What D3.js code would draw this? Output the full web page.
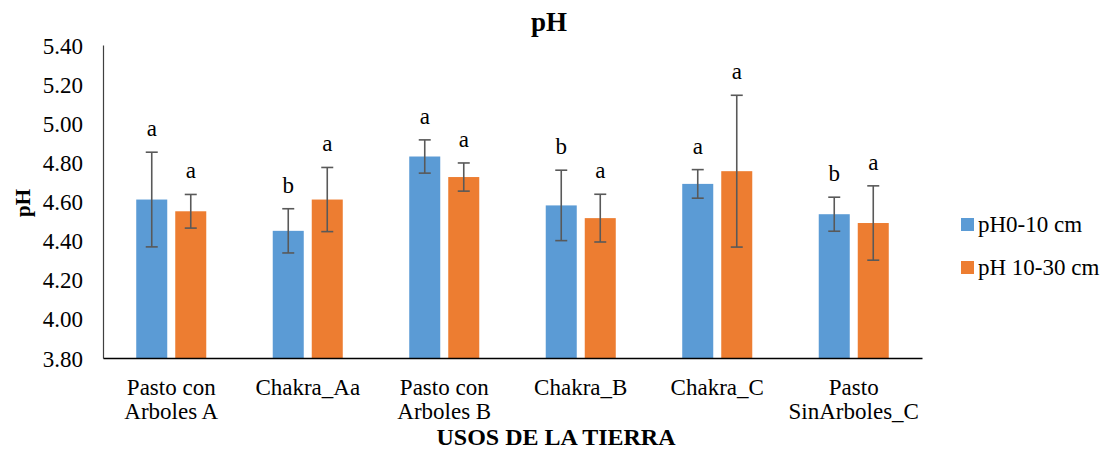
<!DOCTYPE html>
<html>
<head>
<meta charset="utf-8">
<script src="https://cdn.jsdelivr.net/npm/d3@7"></script>
<style>
  html, body { margin: 0; padding: 0; background: #fff; }
  svg { display: block; font-family: "Liberation Serif", "Times New Roman", serif; }
  svg text { font-family: "Liberation Serif", "Times New Roman", serif; }
</style>
</head>
<body>
<svg id="chart" width="1113" height="450"></svg>
<script>
// Land-use categories (label lines)
const categories = ["Pasto con Arboles A", "Chakra_Aa", "Pasto con Arboles B", "Chakra_B", "Chakra_C", "Pasto SinArboles_C"];
const categoryLines = [["Pasto con", "Arboles A"], ["Chakra_Aa"], ["Pasto con", "Arboles B"], ["Chakra_B"], ["Chakra_C"], ["Pasto", "SinArboles_C"]];

// Series: mean pH per depth
const seriesNames = ["pH0-10 cm", "pH 10-30 cm"];
const ph0_10 = [4.61, 4.45, 4.83, 4.58, 4.69, 4.535];
const ph10_30 = [4.55, 4.61, 4.725, 4.515, 4.755, 4.49];

// Error bar half-widths
const err0_10 = [0.242, 0.113, 0.085, 0.18, 0.073, 0.087];
const err10_30 = [0.086, 0.164, 0.072, 0.122, 0.388, 0.19];

// Significance letters
const letters0_10 = ["a", "b", "a", "b", "a", "b"];
const letters10_30 = ["a", "a", "a", "a", "a", "a"];

// Y axis ticks
const yTicks = [3.8, 4.0, 4.2, 4.4, 4.6, 4.8, 5.0, 5.2, 5.4];

const colors = ["#5B9BD5", "#ED7D31"];
const values = [ph0_10, ph10_30];
const errors = [err0_10, err10_30];
const letters = [letters0_10, letters10_30];

const svg = d3.select("#chart");
const plot = { left: 103, right: 922, top: 45, bottom: 358 };

const x0 = d3.scaleBand()
  .domain(categories)
  .range([plot.left, plot.right])
  .paddingInner(0.487)
  .paddingOuter(0.2435);

const x1 = d3.scaleBand()
  .domain(seriesNames)
  .range([0, x0.bandwidth()])
  .paddingInner(0.205)
  .paddingOuter(0);

const y = d3.scaleLinear()
  .domain([3.8, 5.4])
  .range([plot.bottom, plot.top]);

// Title
svg.append("text")
  .attr("x", 549).attr("y", 31)
  .attr("text-anchor", "middle")
  .attr("font-size", 27).attr("font-weight", "bold")
  .text("pH");

// Y axis
const yAxis = svg.append("g")
  .attr("transform", `translate(${plot.left},0)`)
  .call(d3.axisLeft(y).tickValues(yTicks).tickFormat(d3.format(".2f")).tickSize(0).tickPadding(20));
yAxis.attr("font-family", null).attr("font-size", null);
yAxis.select(".domain").attr("stroke", "#404040").attr("stroke-width", 1.2);
yAxis.selectAll("text")
  .style("font-family", "'Liberation Serif', 'Times New Roman', serif")
  .style("font-size", "23px")
  .attr("fill", "#000")
  .attr("dy", "0.35em");

// Y axis title
svg.append("text")
  .attr("transform", "translate(30,203) rotate(-90)")
  .attr("text-anchor", "middle")
  .attr("font-size", 21).attr("font-weight", "bold")
  .text("pH");

// Bars
const groups = svg.append("g").selectAll("g")
  .data(categories)
  .join("g")
  .attr("transform", d => `translate(${x0(d)},0)`);

seriesNames.forEach((s, si) => {
  groups.append("rect")
    .attr("x", x1(s))
    .attr("width", x1.bandwidth())
    .attr("y", (d, i) => y(values[si][i]))
    .attr("height", (d, i) => y(3.8) - y(values[si][i]))
    .attr("fill", colors[si]);
});

// Error bars and letters
seriesNames.forEach((s, si) => {
  const cx = x1(s) + x1.bandwidth() / 2;
  const eb = groups.append("g").attr("stroke", "#595959").attr("stroke-width", 1.6);
  eb.append("line")
    .attr("x1", cx).attr("x2", cx)
    .attr("y1", (d, i) => y(values[si][i] + errors[si][i]))
    .attr("y2", (d, i) => y(values[si][i] - errors[si][i]));
  eb.append("line")
    .attr("x1", cx - 6).attr("x2", cx + 6)
    .attr("y1", (d, i) => y(values[si][i] + errors[si][i]))
    .attr("y2", (d, i) => y(values[si][i] + errors[si][i]));
  eb.append("line")
    .attr("x1", cx - 6).attr("x2", cx + 6)
    .attr("y1", (d, i) => y(values[si][i] - errors[si][i]))
    .attr("y2", (d, i) => y(values[si][i] - errors[si][i]));

  groups.append("text")
    .attr("x", cx)
    .attr("y", (d, i) => y(values[si][i] + errors[si][i]) - 16)
    .attr("text-anchor", "middle")
    .attr("font-size", 23)
    .text((d, i) => letters[si][i]);
});

// X axis
const xAxis = svg.append("g")
  .attr("transform", `translate(0,${plot.bottom})`)
  .call(d3.axisBottom(x0).tickSize(0).tickFormat(""));
xAxis.select(".domain").attr("stroke", "#000").attr("stroke-width", 1.6);

// Category labels (multi-line)
const catLabels = svg.append("g").selectAll("text")
  .data(categories)
  .join("text")
  .attr("text-anchor", "middle")
  .attr("font-size", 23)
  .attr("x", d => x0(d) + x0.bandwidth() / 2)
  .attr("y", 395);
catLabels.each(function(d, i) {
  d3.select(this).selectAll("tspan")
    .data(categoryLines[i])
    .join("tspan")
    .attr("x", x0(d) + x0.bandwidth() / 2)
    .attr("dy", (t, j) => j === 0 ? 0 : 24)
    .text(t => t);
});

// X axis title
svg.append("text")
  .attr("x", 556).attr("y", 445)
  .attr("text-anchor", "middle")
  .attr("font-size", 24).attr("font-weight", "bold")
  .text("USOS DE LA TIERRA");

// Legend
const legend = svg.append("g").selectAll("g")
  .data(seriesNames)
  .join("g")
  .attr("transform", (d, i) => `translate(961,${218 + i * 43})`);
legend.append("rect")
  .attr("width", 13).attr("height", 13)
  .attr("fill", (d, i) => colors[i]);
legend.append("text")
  .attr("x", 17).attr("y", 14)
  .attr("font-size", 23)
  .text(d => d);
</script>
</body>
</html>
